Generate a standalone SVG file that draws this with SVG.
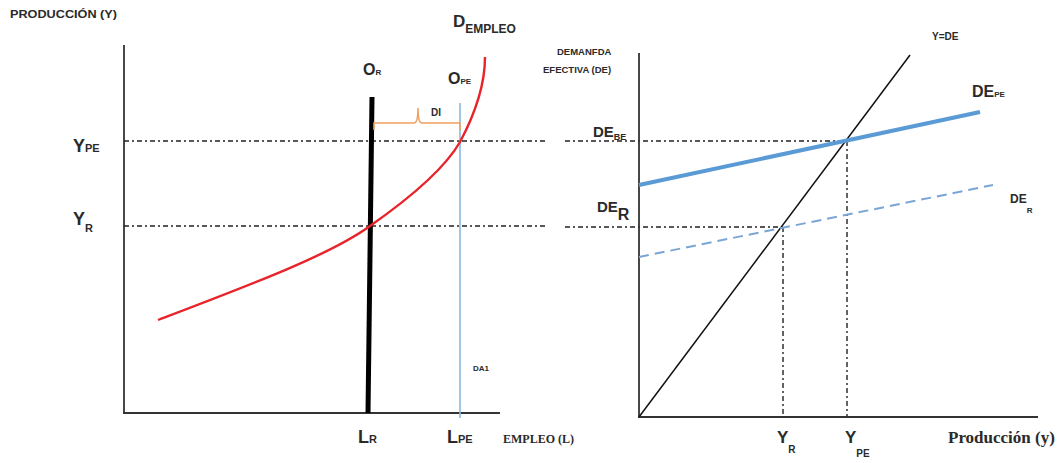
<svg xmlns="http://www.w3.org/2000/svg" width="1061" height="463" viewBox="0 0 1061 463">
<style>
.b{font-family:"Liberation Sans",Arial,sans-serif;font-weight:bold;fill:#2a2a2a}
.s{font-family:"Liberation Serif","Times New Roman",serif;font-weight:bold;fill:#2a2a2a}
.ax{stroke:#333;stroke-width:1.8;fill:none}
.dd{stroke:#222;stroke-width:1.4;stroke-dasharray:5,3,2,3;fill:none}
</style>
<rect width="1061" height="463" fill="#fff"/>
<g id="left-chart">
  <g id="left-axes">
    <line class="ax" x1="124" y1="45" x2="124" y2="413"/>
    <line class="ax" x1="123" y1="413" x2="500" y2="413"/>
  </g>
  <g id="connectors">
    <line class="dd" x1="124" y1="141" x2="548" y2="141"/>
    <line class="dd" x1="124" y1="226" x2="548" y2="226"/>
    <line class="dd" x1="565" y1="141" x2="847" y2="141"/>
    <line class="dd" x1="565" y1="227" x2="783" y2="227"/>
    <line class="dd" x1="783" y1="227" x2="783" y2="417"/>
    <line class="dd" x1="847" y1="141" x2="847" y2="417"/>
  </g>
  <g id="oferta-r">
    <line x1="372" y1="97" x2="368" y2="413" stroke="#000" stroke-width="5"/>
    <text class="b" x="363" y="75" font-size="16">O<tspan font-size="8">R</tspan></text>
  </g>
  <g id="da1">
    <line x1="460" y1="103" x2="460" y2="418" stroke="#8db8e0" stroke-width="1.6"/>
    <text class="b" x="473" y="371" font-size="8">DA1</text>
    <text class="b" x="448" y="84" font-size="16">O<tspan font-size="8">PE</tspan></text>
  </g>
  <g id="di">
    <path d="M374,130 L374,123 L414,123 Q418,123 418,108 Q418,123 422,123 L460,123 L460,130" fill="none" stroke="#f0a060" stroke-width="1.6"/>
    <text class="b" x="431" y="116" font-size="10">DI</text>
  </g>
  <g id="d-empleo">
    <path d="M158,320 C250,285 330,255 370,226 C410,198 445,168 460,142 C476,112 485,85 485,57" fill="none" stroke="#e8242a" stroke-width="2.4"/>
    <text class="b" x="453" y="27" font-size="17">D<tspan font-size="12" dy="6">EMPLEO</tspan></text>
  </g>
  <g id="left-labels">
    <text class="b" x="10" y="18" font-size="10.5" textLength="107" lengthAdjust="spacingAndGlyphs">PRODUCCIÓN (Y)</text>
    <text class="b" x="73" y="152" font-size="18">Y<tspan font-size="11">PE</tspan></text>
    <text class="b" x="73" y="225" font-size="18">Y<tspan font-size="11" dy="7">R</tspan></text>
    <text class="b" x="358" y="443" font-size="18">L<tspan font-size="11">R</tspan></text>
    <text class="b" x="447" y="443" font-size="18">L<tspan font-size="11">PE</tspan></text>
    <text class="s" x="503" y="443" font-size="12">EMPLEO (L)</text>
  </g>
</g>
<g id="right-chart">
  <g id="right-axes">
    <line class="ax" x1="639" y1="53" x2="639" y2="417"/>
    <line class="ax" x1="638" y1="417" x2="1038" y2="417"/>
  </g>
  <g id="y-de">
    <line x1="639" y1="417" x2="910" y2="55" stroke="#111" stroke-width="1.5"/>
    <text class="b" x="932" y="40" font-size="10">Y=DE</text>
  </g>
  <g id="de-pe">
    <line x1="639" y1="185" x2="980" y2="112" stroke="#5b9bd5" stroke-width="4"/>
    <text class="b" x="972" y="97" font-size="16">DE<tspan font-size="8">PE</tspan></text>
  </g>
  <g id="de-r">
    <line x1="639" y1="257" x2="993" y2="185" stroke="#7aa5d6" stroke-width="2" stroke-dasharray="10,6"/>
    <text class="b" x="1010" y="203" font-size="12">DE<tspan font-size="8" dy="10">R</tspan></text>
  </g>
  <g id="right-labels">
    <text class="b" x="557" y="55" font-size="9.5">DEMANFDA</text>
    <text class="b" x="543" y="73" font-size="9.5">EFECTIVA (DE)</text>
    <text class="b" x="593" y="137" font-size="15">DE<tspan font-size="9" dy="3">BE</tspan></text>
    <text class="b" x="597" y="212" font-size="15">DE<tspan font-size="16" dy="8">R</tspan></text>
    <text class="b" x="777" y="443" font-size="17">Y<tspan font-size="10" dy="10">R</tspan></text>
    <text class="b" x="845" y="443" font-size="17">Y<tspan font-size="10" dy="14">PE</tspan></text>
    <text class="s" x="948" y="443" font-size="17">Producción (y)</text>
  </g>
</g>
</svg>
